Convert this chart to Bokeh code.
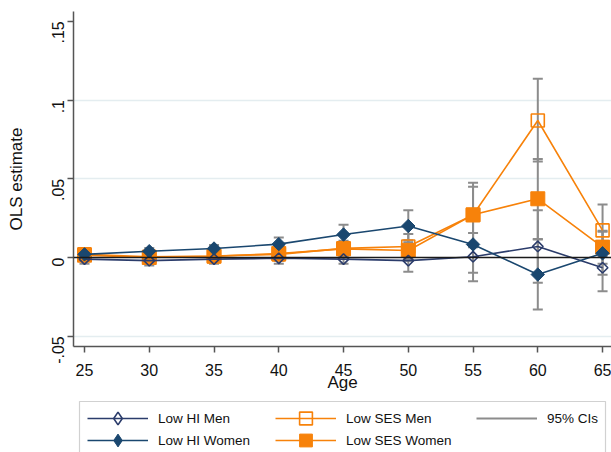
import math
from bokeh.plotting import figure
from bokeh.layouts import column
from bokeh.models import (FixedTicker, Range1d, Legend, LegendItem, ColumnDataSource,
                          Span, Grid, BoxAnnotation)
from bokeh.embed import file_html
from bokeh.resources import INLINE

# ---------------- data ----------------
ages = [25, 30, 35, 40, 45, 50, 55, 60, 65]

hi_men    = [-0.001, -0.002, -0.001, -0.0005, -0.001, -0.002, 0.0005, 0.007, -0.0065]
hi_men_lo = [-0.004, -0.005, -0.004, -0.004, -0.004, -0.009, -0.015, -0.016, -0.0214]
hi_men_hi = [0.002, 0.001, 0.002, 0.003, 0.002, 0.005, 0.0155, 0.030, 0.0082]

hi_women    = [0.002, 0.004, 0.0057, 0.0085, 0.0146, 0.0200, 0.0083, -0.0108, 0.0027]
hi_women_lo = [0.000, 0.002, 0.003, 0.0045, 0.0084, 0.0097, -0.0097, -0.033, -0.011]
hi_women_hi = [0.004, 0.006, 0.008, 0.0127, 0.0208, 0.030, 0.026, 0.0114, 0.0164]

ses_men    = [0.002, 0.0005, 0.001, 0.002, 0.0058, 0.007, 0.027, 0.087, 0.0172]
ses_men_lo = [-0.001, -0.003, -0.002, -0.002, 0.001, -0.001, 0.0065, 0.061, 0.0007]
ses_men_hi = [0.005, 0.004, 0.004, 0.006, 0.0106, 0.015, 0.0475, 0.1135, 0.0337]

ses_women    = [0.0015, 0.0, 0.0008, 0.0025, 0.0055, 0.0045, 0.0271, 0.0373, 0.0066]
ses_women_lo = [-0.001, -0.003, -0.002, 0.000, 0.001, -0.002, 0.009, 0.0117, -0.004]
ses_women_hi = [0.004, 0.003, 0.003, 0.005, 0.010, 0.011, 0.045, 0.0625, 0.017]

y_ticks = [-0.05, 0, 0.05, 0.1, 0.15]
y_tick_labels = ["-.05", "0", ".05", ".1", ".15"]
x_ticks = ages

labels = ["Low HI Men", "Low HI Women", "Low SES Men", "Low SES Women", "95% CIs"]

# ---------------- styling ----------------
NAVY_M = "#2b3c6b"
NAVY_W = "#1a476f"
ORANGE = "#f7820a"
GRAY = "#8c8c8c"
FONT = "Liberation Sans"

ci_x = ages * 4
ci_lo = hi_men_lo + hi_women_lo + ses_men_lo + ses_women_lo
ci_hi = hi_men_hi + hi_women_hi + ses_men_hi + ses_women_hi


def draw_series(fig, diamond="square", dangle=math.pi / 4, dsize=(7.5, 9.5)):
    """Draw CIs and the four series on a figure; return renderers for the legend."""
    src = ColumnDataSource(dict(x=ci_x, lo=ci_lo, hi=ci_hi))
    r_ci = fig.segment(x0="x", y0="lo", x1="x", y1="hi", source=src,
                       line_color=GRAY, line_width=2)
    fig.scatter(x="x", y="lo", source=src, marker="dash", size=10,
                line_color=GRAY, line_width=2)
    fig.scatter(x="x", y="hi", source=src, marker="dash", size=10,
                line_color=GRAY, line_width=2)
    l_sm = fig.line(ages, ses_men, line_color=ORANGE, line_width=1.6)
    m_sm = fig.scatter(ages, ses_men, marker="square", size=13, fill_color=None,
                       line_color=ORANGE, line_width=1.6)
    l_sw = fig.line(ages, ses_women, line_color=ORANGE, line_width=1.6)
    m_sw = fig.scatter(ages, ses_women, marker="square", size=14, fill_color=ORANGE,
                       line_color=ORANGE, line_width=1)
    l_hm = fig.line(ages, hi_men, line_color=NAVY_M, line_width=1.6)
    m_hm = fig.scatter(ages, hi_men, marker=diamond, angle=dangle, size=dsize[0],
                       fill_color=None, line_color=NAVY_M, line_width=1.6)
    l_hw = fig.line(ages, hi_women, line_color=NAVY_W, line_width=1.6)
    m_hw = fig.scatter(ages, hi_women, marker=diamond, angle=dangle, size=dsize[1],
                       fill_color=NAVY_W, line_color=NAVY_W, line_width=1)
    return [[l_hm, m_hm], [l_hw, m_hw], [l_sm, m_sm], [l_sw, m_sw], [r_ci]]


# ---------------- main plot ----------------
p = figure(width=611, height=396, output_backend="svg", toolbar_location=None,
           x_range=Range1d(24.15, 65.69), y_range=Range1d(-0.0565, 0.1562),
           min_border_left=73, min_border_right=0, min_border_top=11,
           min_border_bottom=50)
p.outline_line_color = None
p.background_fill_color = "white"
p.border_fill_color = "white"

p.xgrid.visible = False
p.ygrid.visible = False
g = Grid(dimension=1, ticker=FixedTicker(ticks=[-0.05, 0.05, 0.1]),
         grid_line_color="#e4edf0", grid_line_width=1.5)
p.add_layout(g, "center")

p.xaxis.ticker = FixedTicker(ticks=x_ticks)
p.yaxis.ticker = FixedTicker(ticks=y_ticks)
p.yaxis.major_label_overrides = {t: l for t, l in zip(y_ticks, y_tick_labels)}
p.yaxis.major_label_orientation = math.pi / 2
for ax in (p.xaxis[0], p.yaxis[0]):
    ax.axis_line_color = "#555555"
    ax.axis_line_width = 1.5
    ax.major_tick_line_color = "#555555"
    ax.major_tick_line_width = 1.5
    ax.major_tick_in = 0
    ax.major_tick_out = 6
    ax.minor_tick_line_color = None
    ax.major_label_text_font = FONT
    ax.major_label_text_font_size = "16px"
    ax.major_label_text_color = "#111111"
    ax.axis_label_text_font = FONT
    ax.axis_label_text_font_size = "17px"
    ax.axis_label_text_font_style = "normal"
    ax.axis_label_text_color = "#111111"
p.xaxis.axis_label = "Age"
p.yaxis.axis_label = "OLS estimate"
p.xaxis.major_label_standoff = 11
p.xaxis.axis_label_standoff = -6
p.yaxis.major_label_standoff = 9
p.yaxis.axis_label_standoff = 18

p.add_layout(Span(location=0, dimension="width", line_color="#1a1a1a", line_width=1.5))
draw_series(p)

# ---------------- legend strip (same series as proxies, kept out of view) ----------------
q = figure(width=611, height=56, output_backend="svg", toolbar_location=None,
           x_range=Range1d(1000, 1001), y_range=Range1d(1000, 1001),
           min_border_left=73, min_border_right=0, min_border_top=0,
           min_border_bottom=0)
q.extra_x_ranges = {"px": Range1d(73, 611)}
q.extra_y_ranges = {"px": Range1d(0, 56)}
q.axis.visible = False
q.grid.visible = False
q.outline_line_color = None
q.border_fill_color = "white"
q.background_fill_color = "white"
rs = draw_series(q, diamond="diamond", dangle=0, dsize=(12, 13))

# legend frame (pixel space of the strip)
q.add_layout(BoxAnnotation(left=79, right=605, top=51, bottom=-20,
                           x_range_name="px", y_range_name="px",
                           fill_color=None, fill_alpha=0,
                           line_color="#666666", line_width=1.2))

common = dict(orientation="vertical", label_text_font=FONT,
              label_text_font_size="13.5px", label_text_color="#111111",
              label_standoff=10, glyph_width=61, glyph_height=32, label_height=20,
              padding=0, spacing=0, margin=0, border_line_color=None,
              background_fill_alpha=0)
items = [LegendItem(label=lab, renderers=r) for lab, r in zip(labels, rs)]
col_x = [14, 14, 202, 202, 403]
row_y = [18, -4, 18, -4, 18]
for it, vx, vy in zip(items, col_x, row_y):
    q.add_layout(Legend(items=[it], location=(vx, vy), **common), "center")

layout = column(p, q, spacing=0)
open("out.html", "w").write(file_html(layout, INLINE))
